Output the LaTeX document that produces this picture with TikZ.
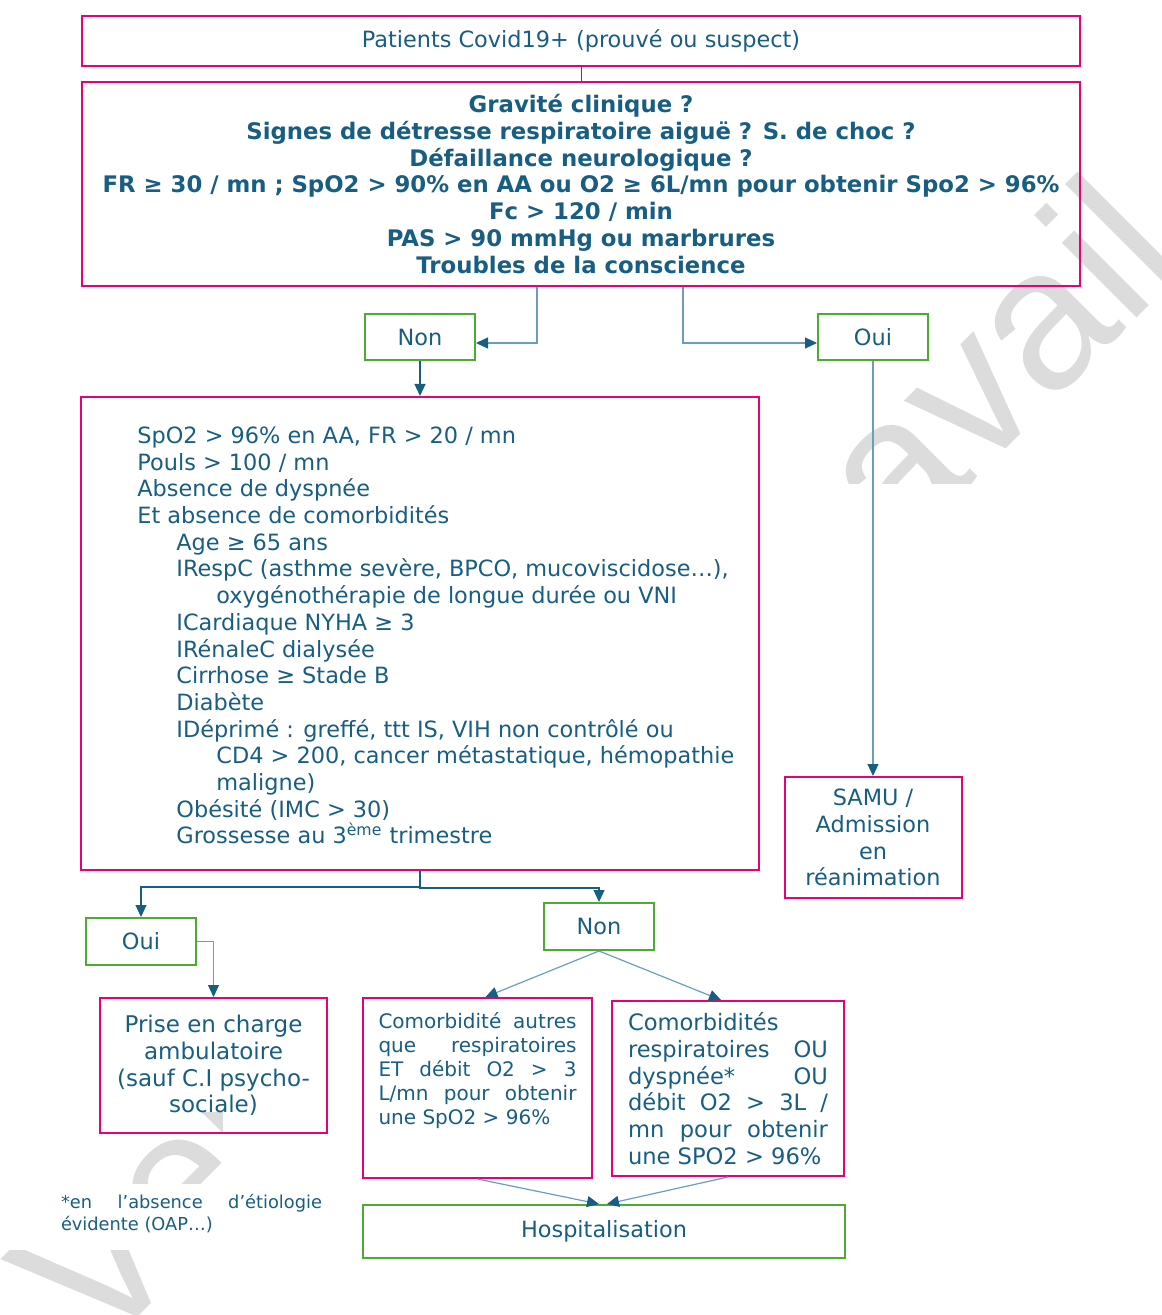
\documentclass[tikz,border=0pt]{standalone}
\usepackage{fontspec}
\setmainfont{DejaVu Sans}
\newfontfamily\wmfont{Liberation Sans}
\usepackage{xcolor}
\usetikzlibrary{positioning, arrows.meta}

\definecolor{flowpink}{HTML}{E6007E}
\definecolor{flowgreen}{HTML}{4DAA33}
\definecolor{flowtext}{HTML}{175E82}
\definecolor{flowline}{HTML}{6A9EBE}
\definecolor{wmgray}{HTML}{DCDCDC}

\newcommand{\ind}{\hspace*{19.5pt}}
\newcommand{\indd}{\hspace*{39.5pt}}

\begin{document}
\begin{tikzpicture}[x=0.5pt, y=-0.5pt, on grid,
    every node/.style={text=flowtext, font=\fontsize{11.2}{13.35}\selectfont},
    pinkbox/.style={draw=flowpink, line width=1pt, align=center, inner sep=0pt},
    greenbox/.style={draw=flowgreen, line width=1pt, minimum width=55pt, minimum height=23pt, inner sep=0pt},
    wmark/.style={text=wmgray, font=\wmfont\fontsize{100}{100}\selectfont, rotate=45, anchor=base west, inner sep=0pt},
    tip/.style={-{Triangle[length=6pt, width=5.5pt, color=flowtext]}},
    dark/.style={draw=flowtext, line width=0.6pt},
    light/.style={draw=flowline, line width=0.6pt}]

    \useasboundingbox (0,0) rectangle (1161,1315);

    % watermark, mostly hidden
    \begin{scope}
        \clip (835,0) rectangle (1161,483) (120,1112) rectangle (222,1183) (0,1250) rectangle (1161,1315);
        \node[wmark] (wmstart) at (97.5,1357.5) {Ver};
        \node[wmark] (wmend) at (812.8,642.2) {travail};
    \end{scope}

    \node[pinkbox, minimum width=499pt, minimum height=25pt] (patients) at (581,41) {Patients Covid19+ (prouvé ou suspect)};
    \node[pinkbox, minimum width=499pt, minimum height=102pt, font=\bfseries\fontsize{11.4}{13.4}\selectfont] (gravite) [below=71.5pt of patients]
        {Gravité clinique ?\\
         Signes de détresse respiratoire aiguë ? S. de choc ?\\
         Défaillance neurologique ?\\
         FR ≥ 30 / mn ; SpO2 > 90\% en AA ou O2 ≥ 6L/mn pour obtenir Spo2 > 96\%\\
         Fc > 120 / min\\
         PAS > 90 mmHg ou marbrures\\
         Troubles de la conscience};

    \node[greenbox] (non1) [below left=76.75pt and 80.5pt of gravite] {Non};
    \node[greenbox] (oui1) [below right=76.75pt and 146pt of gravite] {Oui};

    \node[pinkbox, minimum width=339pt, minimum height=236.5pt] (crit) [below=148pt of non1] {};
    \node[anchor=west, align=left, inner sep=0pt] (crittxt) at ([xshift=28.5pt, yshift=-1pt]crit.west)
        {SpO2 > 96\% en AA, FR > 20 / mn\\
         Pouls > 100 / mn\\
         Absence de dyspnée\\
         Et absence de comorbidités\\
         \ind Age ≥ 65 ans\\
         \ind IRespC (asthme sevère, BPCO, mucoviscidose…),\\
         \indd oxygénothérapie de longue durée ou VNI\\
         \ind ICardiaque NYHA ≥ 3\\
         \ind IRénaleC dialysée\\
         \ind Cirrhose ≥ Stade B\\
         \ind Diabète\\
         \ind IDéprimé : greffé, ttt IS, VIH non contrôlé ou\\
         \indd CD4 > 200, cancer métastatique, hémopathie\\
         \indd maligne)\\
         \ind Obésité (IMC > 30)\\
         \ind Grossesse au 3\textsuperscript{ème} trimestre};

    \node[pinkbox, minimum width=88.5pt, minimum height=60.5pt] (samu) [below=250pt of oui1] {SAMU /\\ Admission\\ en\\ réanimation};

    \node[greenbox, minimum height=23.5pt] (oui2) [below left=154pt and 139.5pt of crit] {Oui};
    \node[greenbox, minimum height=23.5pt] (non2) [below right=146.5pt and 89.5pt of crit] {Non};

    \node[pinkbox, minimum width=113.5pt, minimum height=67.5pt, font=\fontsize{11.5}{13.35}\selectfont] (prise) [below right=62pt and 36.25pt of oui2]
        {Prise en charge\\ ambulatoire\\ (sauf C.I psycho-\\ sociale)};

    \node[pinkbox, minimum width=114.5pt, minimum height=90pt] (comorb1) [below left=80.75pt and 60.75pt of non2] {};
    \node[anchor=north, text width=99pt, align=justify, font=\fontsize{10}{12}\selectfont] (comorb1txt) at ([yshift=-4pt]comorb1.north)
        {Comorbidité autres\linebreak que respiratoires\linebreak ET débit O2 > 3\linebreak L/mn pour obtenir\linebreak une SpO2 > 96\%};

    \node[pinkbox, minimum width=116pt, minimum height=87.5pt, text width=100pt, align=justify, font=\fontsize{11.3}{13.35}\selectfont] (comorb2) [below right=81pt and 64.5pt of non2]
        {Comorbidités\newline respiratoires OU\linebreak dyspnée* OU\linebreak débit O2 > 3L /\linebreak mn pour obtenir\linebreak une SPO2 > 96\%};

    \node[greenbox, minimum width=241pt, minimum height=26.5pt] (hosp) [below right=152.5pt and 2.5pt of non2] {Hospitalisation};

    \node[text width=130.5pt, align=justify, inner sep=0pt, font=\fontsize{8.9}{11}\selectfont] (note) at (191.5,1214)
        {*en l’absence d’étiologie\linebreak évidente (OAP…)};

    % connectors
    \draw[dark, line width=0.5pt] (patients) -- (gravite);
    \draw[light, tip] ([xshift=-22pt]gravite.south) |- ([yshift=-2.75pt]non1.east);
    \draw[light, tip] ([xshift=51pt]gravite.south) |- ([yshift=-2.75pt]oui1.west);
    \draw[dark, tip] (non1.south) -- (non1.south |- crit.north);
    \draw[light, tip] (oui1.south) -- (oui1.south |- samu.north);
    \draw[dark, tip] (crit.south) -- ++(0,16) -| (oui2.north);
    \draw[dark, tip] (crit.south) -- ++(0,17) -| (non2.north);
    \draw[light, tip] (oui2.east) -| (prise.north);

    \draw[light, tip] (non2.south) -- ([xshift=4pt]comorb1.north);
    \draw[light, tip] (non2.south) -- ([xshift=-3.5pt]comorb2.north);
    \draw[light, tip] (comorb1.south) -- ([xshift=-2.5pt]hosp.north);
    \draw[light, tip] (comorb2.south) -- ([xshift=1.5pt]hosp.north);
\end{tikzpicture}
\end{document}
